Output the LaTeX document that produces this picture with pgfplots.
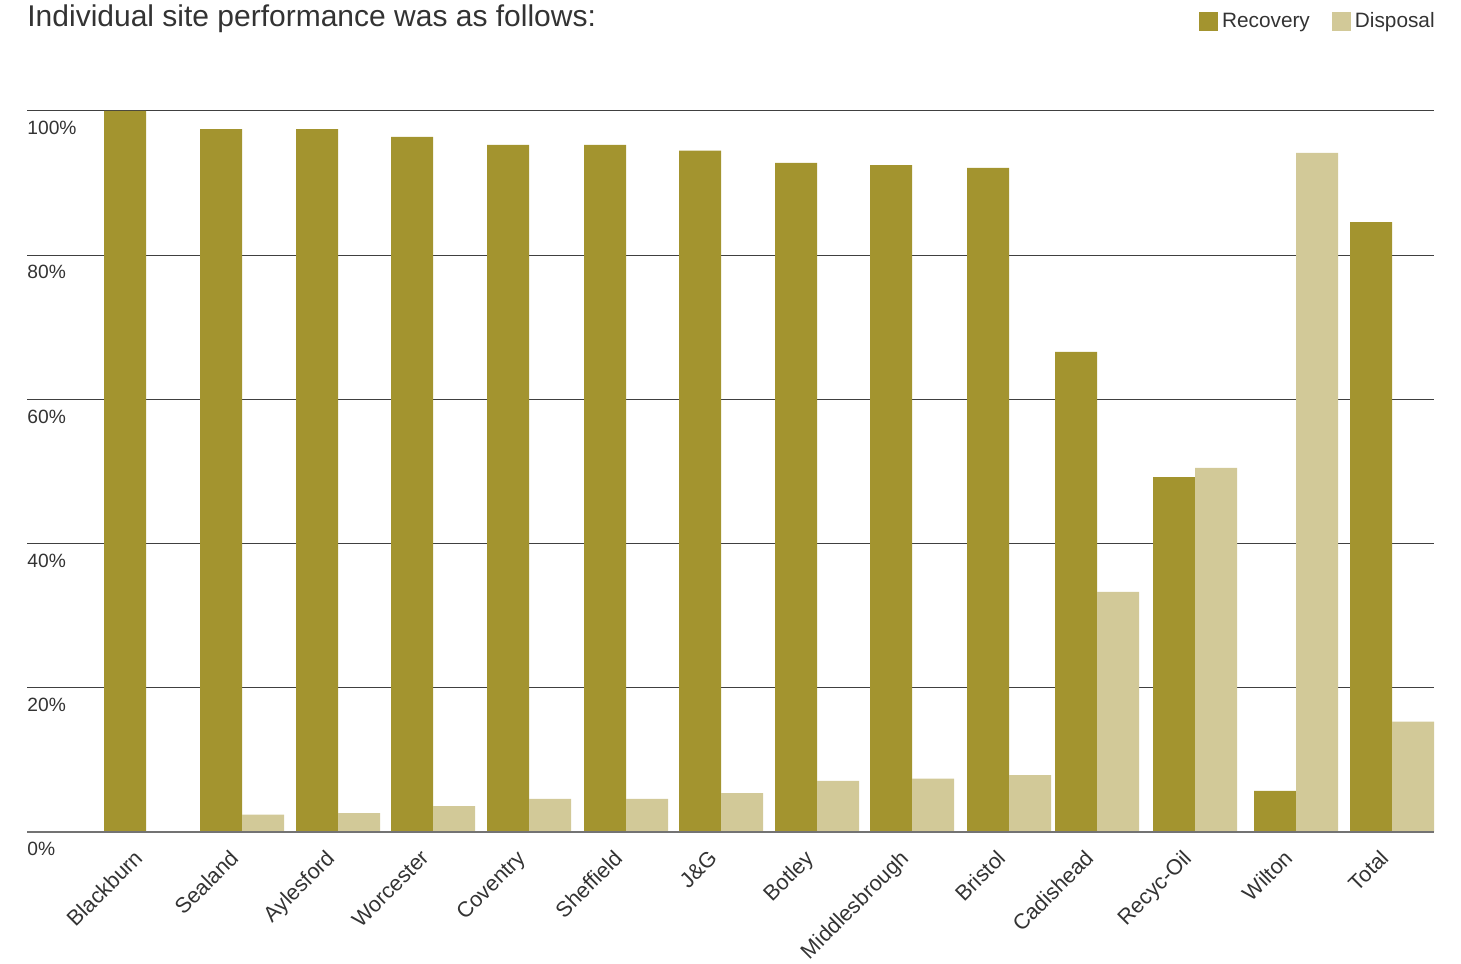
\documentclass[border=0pt]{standalone}
\usepackage{pgfplots}
\usepackage{pgfplotstable}
\pgfplotsset{compat=1.18}
\usepackage{fontspec}
\setmainfont{Liberation Sans}
\definecolor{rec}{HTML}{A3942F}
\definecolor{dis}{HTML}{D2C998}
\definecolor{txt}{HTML}{333333}
\pgfplotstableread{
x    rec   dis
146  100   0
242  97.5  2.4
338  97.5  2.6
433  96.4  3.6
529  95.3  4.6
626  95.3  4.6
721  94.5  5.4
817  92.8  7.1
912  92.5  7.4
1009 92.1  7.9
1097 66.6  33.3
1195 49.2  50.5
1296 5.7   94.2
1392 84.6  15.3
}\sitedata
\begin{document}
\begin{tikzpicture}
\begin{axis}[
  scale only axis, width=703.5pt, height=360.5pt,
  xmin=27, xmax=1434, ymin=0, ymax=100,
  clip=false,
  axis line style={draw=none},
  major tick length=0pt,
  ymajorgrids, grid style={draw=black!75, line width=0.5pt},
  ytick={0,20,40,60,80,100},
  yticklabels={0\%,20\%,40\%,60\%,80\%,100\%},
  yticklabel style={anchor=north west, inner sep=0pt, yshift=-5pt, font=\fontsize{9.6}{11}\selectfont, text=txt},
  xtick={146,242,338,433,529,626,721,817,912,1009,1097,1195,1296,1392},
  xticklabels={Blackburn,Sealand,Aylesford,Worcester,Coventry,Sheffield,J\&G,Botley,Middlesbrough,Bristol,Cadishead,Recyc-Oil,Wilton,Total},
  xticklabel style={rotate=45, anchor=north east, inner sep=0pt, xshift=-10.5pt, yshift=-1pt, font=\fontsize{10.8}{13}\selectfont, text=txt},
  legend columns=2,
  legend style={at={(rel axis cs:1.0036,1.1428)}, anchor=north east, draw=none, fill=none, inner sep=0pt,
    font=\fontsize{10.4}{12}\selectfont, text=txt,
    /tikz/every even column/.append style={column sep=9pt}},
  legend image code/.code={\fill[#1] (0pt,-4.75pt) rectangle (9.5pt,4.75pt);},
]
\addplot[ybar, bar width=42, bar shift=-21, fill=rec, draw=none] table[x=x, y=rec] {\sitedata};
\addlegendentry{Recovery}
\addplot[ybar, bar width=42, bar shift=21, fill=dis, draw=none] table[x=x, y=dis] {\sitedata};
\addlegendentry{Disposal}
\draw[black!55, line width=1pt] (axis cs:27,0) -- (axis cs:1434,0);
\node[anchor=base west, inner sep=0pt, text=txt, font=\fontsize{15}{18}\selectfont] at (rel axis cs:0,1.1165) {Individual site performance was as follows:};
\path (rel axis cs:-0.01919,-0.18031) rectangle (rel axis cs:1.01919,1.15395);
\end{axis}
\end{tikzpicture}
\end{document}
